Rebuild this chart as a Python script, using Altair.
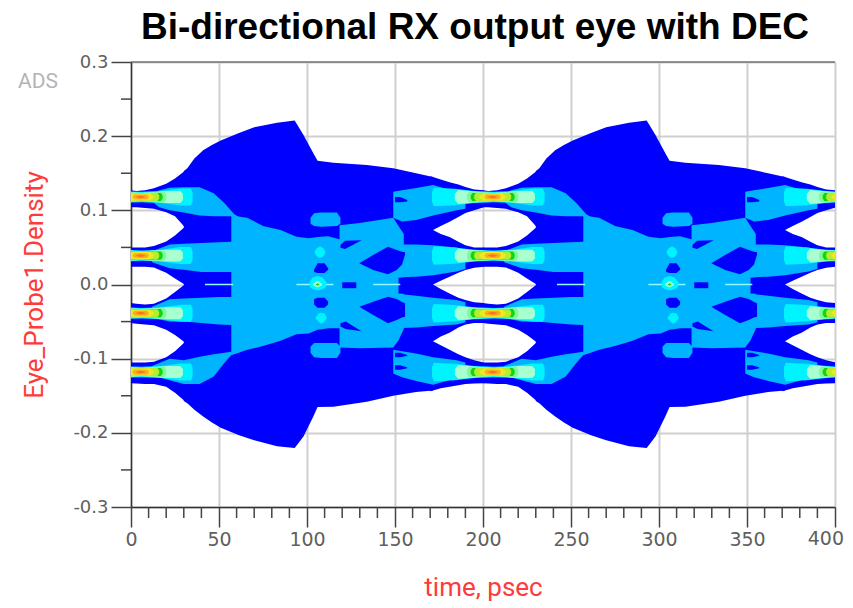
import altair as alt
import pandas as pd

DARK, LIGHT, CYAN = "#0000ff", "#00b4ff", "#00f4ff"
PERIODS = [0, 200]

# ---- dark blue eye body -------------------------------------------------
ENV_T = [30, 32, 36, 41, 46, 51, 61, 70, 83, 93, 98, 103.6, 106, 115, 134, 149, 162, 171.6]
ENV_TOP = [.153, .1566, .17, .181, .188, .194, .204, .212, .218, .221, .2016, .177, .167, .164, .161, .1566, .150, .145]
ENV_BOT = [-.157, -.16, -.169, -.178, -.186, -.193, -.203, -.21, -.218, -.2206, -.205, -.178, -.165, -.1648, -.158, -.15, -.145, -.143]

# ---- rails either side of the eye crossing -------------------------------
LEFT_T = [0, 3, 8, 13, 20, 25, 30.5]
L_R1_TOP = [.127, .1262, .127, .1297, .136, .143, .153]
L_R1_BOT = [.104, .104, .103, .102, .0975, .092, .0775]
L_R2_TOP = [.050, .050, .050, .052, .058, .066, .0775]
L_R2_BOT = [.024, .024, .024, .023, .016, .008, 0]
L_R3_TOP = [-.025, -.026, -.027, -.026, -.019, -.01, 0]
L_R3_BOT = [-.052, -.053, -.054, -.055, -.061, -.068, -.0777]
L_R4_TOP = [-.105, -.105, -.105, -.104, -.098, -.09, -.0777]
L_R4_BOT = [-.133, -.1335, -.134, -.1342, -.138, -.146, -.157]

RIGHT_T = [171.6, 176, 181, 186, 190, 195, 200.5]
OUTER_T = [170, 171.6, 176, 181, 186, 190, 195, 200.5]
R_R1_TOP = [.146, .145, .1415, .138, .135, .1315, .128, .127]
R_R1_BOT = [.0735, .0735, .079, .0847, .091, .0964, .1, .104]
R_R2_TOP = [.0735, .068, .064, .0575, .053, .05, .05]
R_R2_BOT = [0, .005, .0105, .016, .0195, .0225, .024]
R_R3_TOP = [0, -.006, -.012, -.018, -.021, -.024, -.025]
R_R3_BOT = [-.0765, -.07, -.065, -.058, -.054, -.052, -.052]
R_R4_TOP = [-.0765, -.0765, -.082, -.088, -.094, -.098, -.102, -.105]
R_R4_BOT = [-.144, -.143, -.14, -.138, -.136, -.134, -.1335, -.133]

# ---- light blue density regions -------------------------------------------
SHAPES = [
    (DARK, ENV_T, ENV_TOP, ENV_BOT),
    (DARK, LEFT_T, L_R1_TOP, L_R1_BOT), (DARK, LEFT_T, L_R2_TOP, L_R2_BOT),
    (DARK, LEFT_T, L_R3_TOP, L_R3_BOT), (DARK, LEFT_T, L_R4_TOP, L_R4_BOT),
    (DARK, OUTER_T, R_R1_TOP, R_R1_BOT), (DARK, RIGHT_T, R_R2_TOP, R_R2_BOT),
    (DARK, RIGHT_T, R_R3_TOP, R_R3_BOT), (DARK, OUTER_T, R_R4_TOP, R_R4_BOT),
    # left rail fans
    (LIGHT, [12, 16, 22, 30, 39, 47, 53, 58.5, 62],
     [.122, .127, .1305, .131, .131, .123, .11, .095, .09],
     [.112, .104, .1, .097, .093, .092, .092, .092, .09]),
    (LIGHT, [12, 22, 30, 40, 50, 60],
     [.045, .054, .055, .056, .057, .058], [.03, .022, .02, .017, .017, .017]),
    (LIGHT, [12, 22, 30, 40, 50, 60],
     [-.03, -.02, -.019, -.018, -.017, -.017], [-.045, -.05, -.05, -.052, -.054, -.055]),
    (LIGHT, [12, 22, 30, 39, 47, 53, 57, 60],
     [-.11, -.1, -.102, -.0973, -.094, -.092, -.0906, -.09],
     [-.122, -.129, -.134, -.134, -.124, -.106, -.095, -.092]),
    # central body
    (LIGHT, [57, 60, 66, 75, 85, 94, 101, 106, 112, 120],
     [.095, .092, .09, .079, .0735, .0645, .0625, .064, .065, .06],
     [-.095, -.093, -.088, -.083, -.076, -.067, -.066, -.061, -.059, -.059]),
    (LIGHT, [118.5, 130, 149, 152, 155],
     [.08, .083, .09, .079, .068], [-.085, -.086, -.085, -.075, -.06]),
    # blobs above and below the body
    (LIGHT, [102, 104, 108, 117, 119],
     [.09, .096, .097, .097, .09], [.082, .079, .078, .079, .082]),
    (LIGHT, [102, 104, 108, 117, 119],
     [-.084, -.079, -.079, -.079, -.084], [-.092, -.098, -.099, -.099, -.092]),
    # right rail fans
    (LIGHT, [149, 154, 162, 171.7, 185, 190],
     [.125, .127, .13, .134, .125, .12], [.09, .085, .087, .093, .1, .102]),
    (LIGHT, [150, 162, 171.6, 185, 190],
     [.054, .054, .053, .05, .045], [.009, .0105, .0125, .0175, .021]),
    (LIGHT, [150, 162, 171.6, 185, 190],
     [-.012, -.015, -.018, -.021, -.024], [-.059, -.058, -.056, -.054, -.051]),
    (LIGHT, [149, 154, 162, 171.7, 185, 190],
     [-.088, -.09, -.093, -.098, -.102, -.105], [-.12, -.125, -.13, -.135, -.126, -.122]),
    # dark pockets inside the light regions
    (DARK, [152, 160, 171.6], [.009, .0105, .001], [-.012, -.013, -.001]),
    (DARK, [150, 153, 157], [.118, .118, .114], [.111, .111, .112]),
    (DARK, [150, 153, 157], [-.092, -.092, -.095], [-.098, -.098, -.096]),
    (DARK, [150, 153, 157], [-.109, -.109, -.112], [-.115, -.115, -.113]),
    (DARK, [129.7, 137.6, 146, 151, 154, 155.7],
     [.0286, .0398, .051, .0465, .044, .0434], [.0286, .0195, .0137, .0195, .027, .040]),
    (DARK, [129.7, 137.6, 146, 151, 154, 155.7],
     [-.0299, -.0232, -.0164, -.0195, -.0235, -.0254],
     [-.0299, -.041, -.0523, -.048, -.0445, -.0434]),
    (DARK, [119, 121.6, 131], [.0533, .059, .0596], [.0496, .0479, .0596]),
    (DARK, [119, 122, 131], [-.0523, -.05, -.0629], [-.0566, -.06, -.0629]),
    (DARK, [104, 106, 110, 112], [.02, .0285, .0285, .022], [.017, .0155, .0155, .02]),
    (DARK, [104, 106, 110, 112], [-.02, -.0178, -.0178, -.023], [-.027, -.0313, -.0313, -.027]),
    (DARK, [120, 128], [.003, .003], [-.005, -.005]),
    # cyan spots on the body
    (CYAN, [104.2, 105.5, 107.4, 109.3, 110.6], [.0434, .049, .0511, .049, .0434], [.0434, .038, .0357, .038, .0434]),
    (CYAN, [105, 106.5, 108, 110, 111], [-.044, -.039, -.038, -.039, -.044], [-.046, -.05, -.053, -.05, -.046]),
]

# small blob drawn over the centre line
BLOB = [
    (CYAN, [101.5, 103, 106, 109, 111], [.003, .009, .0115, .009, .003], [-.003, -.006, -.008, -.006, -.003]),
    ("#a8ffd0", [103.5, 106, 108.5], [.001, .005, .001], [-.001, -.004, -.001]),
    ("#13d313", [105, 106, 107], [.0003, .0018, .0003], [-.0003, -.0018, -.0003]),
]

# ---- nested density contours along each rail (offset from rail centre) ----
RAIL_CENTRES = [.118, .039, -.0387, -.118]
GLOWS = [
    (CYAN, [-29, -28, -16, -5, 6, 17, 28, 34, 35],
     [.006, .0125, .011, .008, .007, .008, .0115, .0115, .006]),
    ("#a8ffd0", [-16, -14, -8, 0, 6, 12, 20, 28, 29.5],
     [.004, .0095, .008, .0065, .0055, .0065, .008, .008, .004]),
    ("#7dfa9a", [-9, -8, 0, 6, 12, 19, 20], [.003, .007, .0065, .0055, .0065, .007, .003]),
    ("#13d313", [-7, -6, 0, 5.5, 11, 17, 18], [.002, .0055, .0055, .005, .0055, .0055, .002]),
    ("#b5ee30", [-5, -4, 1, 5.5, 10, 15, 16], [.002, .0053, .0053, .0052, .0053, .0053, .002]),
    ("#f0e820", [-2, 0, 5.5, 11, 13], [.001, .0047, .0047, .0047, .001]),
    ("#ffab20", [1, 2, 5.5, 9, 10], [.001, .0032, .0034, .0032, .001]),
    ("#ff7020", [3, 5.5, 8], [.0005, .0018, .0005]),
]

CENTRE_A = [42, 94, 137.6]
CENTRE_B = [58, 115, 153]

X_MAJOR = [0, 50, 100, 150, 200, 250, 300, 350, 400]
X_MINOR = [t for t in range(0, 401, 10) if t % 50]
Y_MAJOR = [-.3, -.2, -.1, 0, .1, .2, .3]
Y_MINOR = [-.25, -.15, -.05, .05, .15, .25]

rows = []
sid = 0
for shift in PERIODS:
    for fill, ts, tops, bots in SHAPES:
        sid += 1
        for t, a, b in zip(ts, tops, bots):
            rows.append(dict(t=t + shift, top=a, bot=b, fill=fill, shape=sid))
for fill, ts, half in GLOWS:
    for shift in PERIODS + [400]:
        for c in RAIL_CENTRES:
            sid += 1
            for t, h in zip(ts, half):
                rows.append(dict(t=t + shift, top=c + h, bot=c - h, fill=fill, shape=sid))
df = pd.DataFrame(rows)

blob_rows = []
for shift in PERIODS:
    for fill, ts, tops, bots in BLOB:
        sid += 1
        for t, a, b in zip(ts, tops, bots):
            blob_rows.append(dict(t=t + shift, top=a, bot=b, fill=fill, shape=sid))
blob_df = pd.DataFrame(blob_rows)

xs = alt.Scale(domain=[0, 400], nice=False, zero=False)
ys = alt.Scale(domain=[-.3, .3], nice=False, zero=False)
FONT = "Roboto"
LABEL_FONT = "DejaVu Sans"
RED = "#ff3a3a"
LABEL_GREY = "#5f5f5f"

x_axis = alt.Axis(
    values=X_MAJOR, title="time, psec", titleColor=RED, titleFont=FONT, titleFontSize=26,
    titleFontWeight="normal", titlePadding=25, labelFont=LABEL_FONT, labelFontSize=19, labelColor=LABEL_GREY,
    labelPadding=3, labelFlush=False, labelExpr="datum.value == 400 ? '' : datum.label",
    tickSize=20, tickColor="#444444", tickWidth=1.5,
    domainColor="#333333", domainWidth=1.5, grid=True, gridColor="#cfcfcf", gridWidth=2)
y_axis = alt.Axis(
    values=Y_MAJOR, title="Eye_Probe1.Density", titleColor=RED, titleFont=FONT, titleFontSize=26,
    titleFontWeight="normal", titlePadding=25, labelFont=LABEL_FONT, labelFontSize=18, labelColor=LABEL_GREY,
    labelPadding=3, tickSize=20, tickColor="#444444", tickWidth=1.5,
    labelExpr="replace(format(datum.value,'.1f'),'\u2212','-')",
    domainColor="#333333", domainWidth=1.5, grid=True, gridColor="#cfcfcf", gridWidth=2)

def areas(frame):
    return alt.Chart(frame).mark_area(clip=True, opacity=1, interpolate="linear").encode(
        x=alt.X("t:Q", scale=xs, axis=x_axis),
        y=alt.Y("top:Q", scale=ys, axis=y_axis),
        y2="bot:Q",
        color=alt.Color("fill:N", scale=None),
        detail="shape:N",
    )

centre = alt.Chart(pd.DataFrame(
    [dict(a=a + s, b=b + s, v=0) for s in PERIODS for a, b in zip(CENTRE_A, CENTRE_B)]
)).mark_rule(color="#8ffcff", strokeWidth=1.5).encode(
    x=alt.X("a:Q", scale=xs, axis=x_axis), x2="b:Q", y=alt.Y("v:Q", scale=ys, axis=y_axis))

x_minor = alt.Chart(pd.DataFrame({"t": X_MINOR})).mark_rule(color="#444444", strokeWidth=1.5).encode(
    x=alt.X("t:Q", scale=xs, axis=x_axis), y=alt.value(445), y2=alt.value(456))
y_minor = alt.Chart(pd.DataFrame({"v": Y_MINOR})).mark_rule(color="#444444", strokeWidth=1.5).encode(
    y=alt.Y("v:Q", scale=ys, axis=y_axis), x=alt.value(-10), x2=alt.value(0))
top_line = alt.Chart(pd.DataFrame({"v": [.3]})).mark_rule(color="#444444", strokeWidth=1.2).encode(
    y=alt.Y("v:Q", scale=ys, axis=y_axis), x=alt.value(0), x2=alt.value(704))
ads = alt.Chart(pd.DataFrame({"s": ["ADS"]})).mark_text(
    font=FONT, fontSize=21, color="#b4b4b4", align="left", baseline="middle"
).encode(text="s:N", x=alt.value(-113), y=alt.value(20))
# The last tick label sits against the edge of the page, so it is right-aligned to stay whole.
last_label = alt.Chart(pd.DataFrame({"s": [str(X_MAJOR[-1])]})).mark_text(
    font=LABEL_FONT, fontSize=19, color=LABEL_GREY, align="right", baseline="top"
).encode(text="s:N", x=alt.value(713), y=alt.value(468))

chart = alt.layer(areas(df), centre, areas(blob_df), x_minor, y_minor, top_line, ads, last_label).properties(
    width=704, height=445,
    autosize=alt.AutoSizeParams(type="none"),
    padding={"left": 123, "top": 54, "right": 10, "bottom": 96},
    title=alt.TitleParams("Bi-directional RX output eye with DEC", font="Liberation Sans", fontSize=37,
                          fontWeight="bold", color="#000000", anchor="middle", dx=-8, offset=6),
).configure_view(stroke=None)

chart.save("out.html", embed_options={"renderer": "svg", "actions": False})
